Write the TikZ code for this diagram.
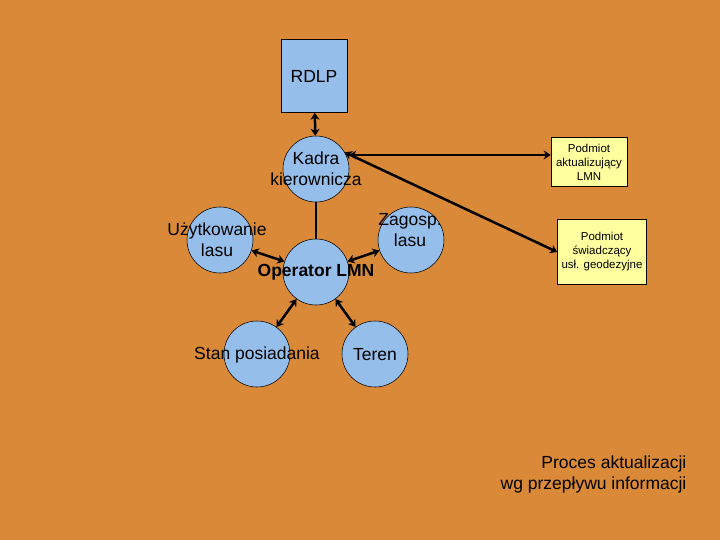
\documentclass[tikz,border=0pt]{standalone}
\usepackage{fontspec}
\setmainfont{Liberation Sans}
\usetikzlibrary{arrows.meta}
\definecolor{tlo}{RGB}{217,137,56}
\definecolor{kolo}{RGB}{150,190,235}
\definecolor{pole}{RGB}{255,255,160}
\tikzset{every picture/.style={line width=0.55pt}}
\begin{document}
\begin{tikzpicture}[x=1pt,y=1pt,yscale=-1,xscale=1,
  kolo/.style={circle,draw,fill=kolo,minimum size=66pt,inner sep=0pt},
  pole/.style={draw,fill=pole,inner sep=0pt},
  napis/.style={align=center,font=\fontsize{17.5}{21}\selectfont},
  maly/.style={align=center,font=\fontsize{11.5}{14}\selectfont},
  strz/.style={line width=2.5pt,{Stealth[length=7pt,width=9pt]}-{Stealth[length=7pt,width=9pt]}}]
            % Background
            \fill [tlo] (0,0) rectangle (720,540);
            \useasboundingbox (0,0) rectangle (720,540);
            % Boxes
            \node [pole,fill=kolo,minimum width=66pt,minimum height=73pt] (rdlp) at (314,76) {};
            \node [pole,minimum width=76pt,minimum height=49pt] (akt) at (589,162) {};
            \node [pole,minimum width=89pt,minimum height=65pt] (geo) at (602,252) {};
            % Circles
            \node [kolo] (kadra) at (316,169) {};
            \node [kolo] (uzyt) at (220,240) {};
            \node [kolo] (zag) at (411,240) {};
            \node [kolo] (oper) at (316,272) {};
            \node [kolo] (stan) at (257,354) {};
            \node [kolo] (teren) at (375,354) {};
            % Connectors
            \draw [strz] (rdlp) -- (kadra);
            \draw [strz] (kadra.east |- 0,155) -- (akt.west |- 0,155);
            \draw [strz] (kadra.30) -- (geo.west);
            \draw [line width=2.5pt] (kadra) -- (oper);
            \draw [strz] (uzyt) -- (oper);
            \draw [strz] (zag) -- (oper);
            \draw [strz] (stan) -- (oper);
            \draw [strz] (teren) -- (oper);
            % Text Nodes
            \node [napis] (trdlp) at (314,76) {RDLP};
            \node [napis] (tkadra) at (316,169) {Kadra\\kierownicza};
            \node [napis] (tuzyt) at (217,240) {Użytkowanie\\lasu};
            \node [napis] (tzag) at (410,230) {Zagosp.\\lasu};
            \node [napis,font=\fontsize{17.5}{21}\selectfont\bfseries] (toper) at (316,272) {Operator LMN};
            \node [napis] (tstan) at (257,355) {Stan posiadania};
            \node [napis] (tteren) at (375,355) {Teren};
            \node [maly] (takt) at (589,162) {Podmiot\\aktualizujący\\LMN};
            \node [maly] (tgeo) at (602,252) {Podmiot\\świadczący\\usł. geodezyjne};
            \node [napis,align=right,anchor=east] (proces) at (690,474) {Proces aktualizacji\\wg przepływu informacji};
\end{tikzpicture}
\end{document}
